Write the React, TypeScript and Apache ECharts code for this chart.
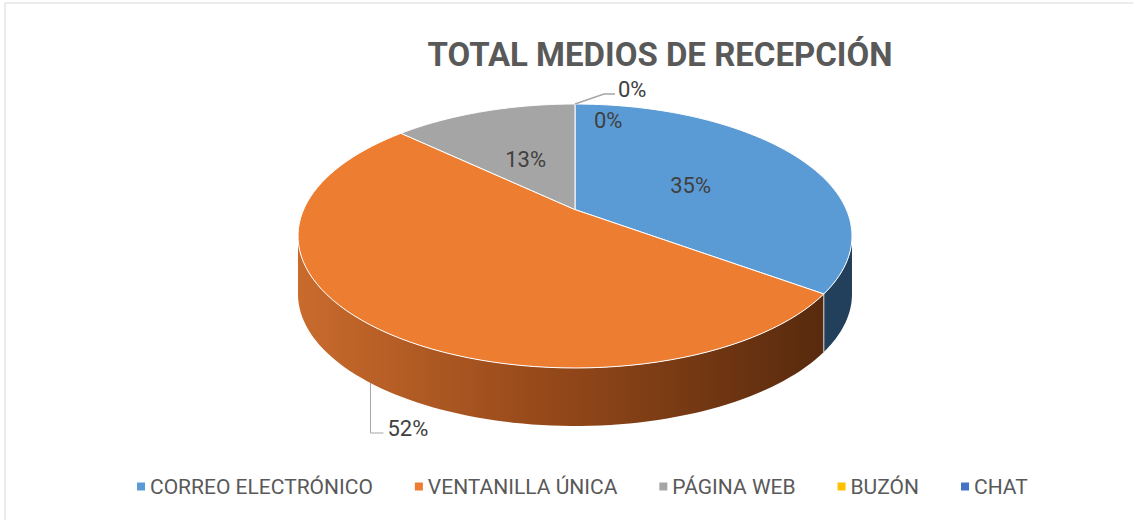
import React, { useEffect, useRef } from "react";
import * as echarts from "echarts";

const categories = ["CORREO ELECTRÓNICO", "VENTANILLA ÚNICA", "PÁGINA WEB", "BUZÓN", "CHAT"];
const values = [35, 52, 13, 0, 0];
const topColors = ["#5B9BD5", "#ED7D31", "#A5A5A5", "#FFC000", "#4472C4"];
const titleText = "TOTAL MEDIOS DE RECEPCIÓN";

// label placement mode per slice (style config)
const labelModes = ["inside", "outsideBelow", "inside", "outsideTop", "insideZero"];

const TOTAL = values.reduce((a, b) => a + b, 0);
const cumulative: number[] = values.reduce(
  (acc: number[], v) => {
    acc.push(acc[acc.length - 1] + v);
    return acc;
  },
  [0]
);

// 3D pie projection geometry
const CX = 575;
const CY = 209.6;
const RX = 271.4;
const RY = 126.7;
const K = 0.2;
const DEPTH = 58;
const VIS_LO = Math.acos(-K);
const VIS_HI = 2 * Math.PI - Math.acos(-K);
const FONT = "Roboto, 'Open Sans', sans-serif";

function proj(theta: number, f = 1, dy = 0): number[] {
  const s = Math.sin(theta);
  const c = Math.cos(theta);
  const d = 1 + K * f * c;
  return [CX + (RX * f * s) / d, CY - (RY * f * c) / d + dy];
}

function sideFill(i: number): any {
  if (i === 1) {
    return {
      type: "linear",
      x: 0,
      y: 0,
      x2: 1,
      y2: 0,
      colorStops: [
        { offset: 0, color: "#C96B2D" },
        { offset: 0.45, color: "#984A1A" },
        { offset: 1, color: "#582A0E" },
      ],
    };
  }
  if (i === 0) return "#223F5C";
  return "#6E6E6E";
}

export default function App() {
  const ref = useRef<HTMLDivElement>(null);

  useEffect(() => {
    document.body.style.margin = "0";
    if (!ref.current) return;
    const chart = echarts.init(ref.current, undefined, { renderer: "svg" });

    const renderItem = (params: any, api: any) => {
      const i = params.dataIndex;
      const v = api.value(0);
      const a0 = (cumulative[i] / TOTAL) * 2 * Math.PI;
      const a1 = a0 + (v / TOTAL) * 2 * Math.PI;
      const mid = (a0 + a1) / 2;
      const children: any[] = [];
      const n = 80;
      if (a1 > a0) {
        const lo = Math.max(a0, VIS_LO);
        const hi = Math.min(a1, VIS_HI);
        if (hi > lo) {
          const pts: number[][] = [];
          for (let s = 0; s <= n; s++) pts.push(proj(lo + ((hi - lo) * s) / n, 1, 0));
          for (let s = n; s >= 0; s--) pts.push(proj(lo + ((hi - lo) * s) / n, 1, DEPTH));
          children.push({
            type: "polygon",
            z2: 1,
            shape: { points: pts },
            style: { fill: sideFill(i) },
          });
        }
        if (a0 > VIS_LO && a0 < VIS_HI) {
          children.push({
            type: "polyline",
            z2: 2,
            shape: { points: [proj(a0, 1, 0), proj(a0, 1, DEPTH)] },
            style: { stroke: "#D9D9D9", lineWidth: 1, fill: null },
          });
        }
        const tp: number[][] = [[CX, CY]];
        for (let s = 0; s <= n; s++) tp.push(proj(a0 + ((a1 - a0) * s) / n, 1, 0));
        children.push({
          type: "polygon",
          z2: 5,
          shape: { points: tp },
          style: { fill: topColors[i], stroke: "#FFFFFF", lineWidth: 1, lineJoin: "round" },
        });
      }
      const pct = Math.round((v / TOTAL) * 100) + "%";
      const textStyle = { fill: "#404040", fontSize: 22, fontFamily: FONT };
      const mode = labelModes[i];
      if (mode === "inside") {
        const p = proj(mid, 0.5, 0);
        children.push({
          type: "text",
          z2: 10,
          style: { ...textStyle, text: pct, x: p[0], y: p[1] + 3, align: "center", verticalAlign: "middle" },
        });
      } else if (mode === "outsideBelow") {
        const p = proj(mid, 1, DEPTH);
        const q = [p[0], p[1] + 50];
        const r = [p[0] + 13, p[1] + 50];
        children.push({
          type: "polyline",
          z2: 10,
          shape: { points: [p, q, r] },
          style: { stroke: "#A6A6A6", lineWidth: 1, fill: null },
        });
        children.push({
          type: "text",
          z2: 10,
          style: { ...textStyle, text: pct, x: r[0] + 4, y: r[1] - 5, align: "left", verticalAlign: "middle" },
        });
      } else if (mode === "outsideTop") {
        const p = proj(mid, 1, 0);
        const q = [p[0] + 29, p[1] - 10];
        const r = [p[0] + 40, p[1] - 10];
        children.push({
          type: "polyline",
          z2: 10,
          shape: { points: [p, q, r] },
          style: { stroke: "#A6A6A6", lineWidth: 1.5, fill: null },
        });
        children.push({
          type: "text",
          z2: 10,
          style: { ...textStyle, text: pct, x: r[0] + 3, y: r[1] - 5, align: "left", verticalAlign: "middle" },
        });
      } else if (mode === "insideZero") {
        const p = proj(mid, 0.85, 0);
        children.push({
          type: "text",
          z2: 10,
          style: { ...textStyle, text: pct, x: p[0] + 19, y: p[1] + 3, align: "left", verticalAlign: "middle" },
        });
      }
      return { type: "group", children };
    };

    chart.setOption({
      animation: false,
      backgroundColor: "#FFFFFF",
      title: {
        text: titleText,
        left: 655,
        textAlign: "center",
        top: 33,
        textStyle: { color: "#595959", fontSize: 33, fontWeight: "bold", fontFamily: FONT },
      },
      legend: {
        data: categories,
        left: 137,
        top: 476,
        padding: 0,
        icon: "rect",
        itemWidth: 8,
        itemHeight: 8,
        itemGap: 42,
        textStyle: { color: "#595959", fontSize: 21, fontFamily: FONT },
        selectedMode: false,
      },
      graphic: [
        { type: "line", shape: { x1: 5, y1: 3, x2: 1133, y2: 3 }, style: { stroke: "#D9D9D9", lineWidth: 1 } },
        { type: "line", shape: { x1: 5, y1: 3, x2: 5, y2: 520 }, style: { stroke: "#D9D9D9", lineWidth: 1 } },
      ],
      series: [
        {
          type: "pie",
          radius: [0, 0],
          center: [-200, -200],
          silent: true,
          label: { show: false },
          labelLine: { show: false },
          data: categories.map((name, i) => ({ name, value: values[i], itemStyle: { color: topColors[i] } })),
        },
        {
          type: "custom",
          coordinateSystem: "none",
          silent: true,
          renderItem,
          data: categories.map((name, i) => ({ name, value: values[i] })),
        },
      ],
    });

    return () => chart.dispose();
  }, []);

  return <div ref={ref} style={{ width: 1133, height: 520 }} />;
}
